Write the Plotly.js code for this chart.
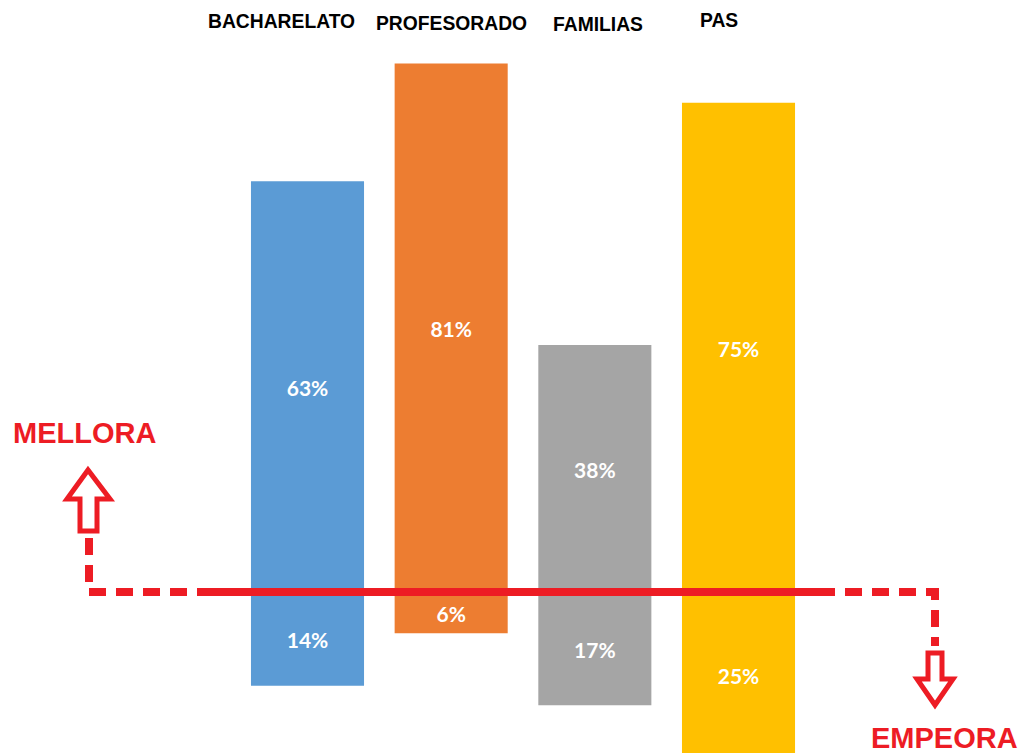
<!DOCTYPE html>
<html>
<head>
<meta charset="utf-8">
<script src="https://cdn.plot.ly/plotly-3.0.1.min.js"></script>
<style>html,body{margin:0;padding:0;background:#fff;}#chart{width:1023px;height:753px;}</style>
</head>
<body>
<div id="chart"></div>
<script>
// ---- data ----
var categories = ['BACHARELATO', 'PROFESORADO', 'FAMILIAS', 'PAS'];
var mellora = [63, 81, 38, 75];   // % que mellora (arriba)
var empeora = [14, 6, 17, 25];    // % que empeora (abaixo)
var upLabel = 'MELLORA';
var downLabel = 'EMPEORA';

// ---- style ----
var barColors = ['#5B9BD5', '#ED7D31', '#A5A5A5', '#FFC000'];
var red = '#ED1C24';
var W = 1023, H = 753;
function px(x) { return x / W; }
function py(y) { return 1 - y / H; }
function pathPx(pts, close) {
  var s = pts.map(function (p, i) { return (i ? 'L ' : 'M ') + px(p[0]).toFixed(5) + ',' + py(p[1]).toFixed(5); }).join(' ');
  return close ? s + ' Z' : s;
}

var valueFont = { family: 'Lato, "Open Sans", sans-serif', size: 21, color: '#ffffff', weight: 'bold' };

var traceUp = {
  type: 'bar', x: categories, y: mellora,
  text: mellora.map(function (v) { return v + '%'; }),
  textposition: 'inside', insidetextanchor: 'middle', textangle: 0,
  insidetextfont: valueFont, constraintext: 'none',
  marker: { color: barColors, line: { width: 0 } },
  hoverinfo: 'none', showlegend: false
};
var traceDown = {
  type: 'bar', x: categories, y: empeora.map(function (v) { return -v; }),
  text: empeora.map(function (v) { return v + '%'; }),
  textposition: 'inside', insidetextanchor: 'middle', textangle: 0,
  insidetextfont: valueFont, constraintext: 'none',
  marker: { color: barColors, line: { width: 0 } },
  hoverinfo: 'none', showlegend: false
};

// pixel geometry of category axis
var catStep = 143.67, firstCenter = 307.5, zeroPx = 594, pxPerPct = 6.55;

var labelShift = [-26, 0, 3, -20];
var labelY = [22, 24, 25, 21];
var annotations = categories.map(function (c, i) {
  return {
    x: c, xref: 'x', xshift: labelShift[i],
    y: py(labelY[i]), yref: 'paper', yanchor: 'middle', xanchor: 'center',
    text: c, showarrow: false,
    font: { family: '"Liberation Sans", Arial, sans-serif', size: 19.3, color: '#000000', weight: 'bold' }
  };
});
annotations.push({
  x: px(84), y: py(433), xref: 'paper', yref: 'paper', xanchor: 'center', yanchor: 'middle',
  text: upLabel, showarrow: false,
  font: { family: '"Liberation Sans", Arial, sans-serif', size: 29, color: red, weight: 'bold' }
});
annotations.push({
  x: px(944), y: py(738), xref: 'paper', yref: 'paper', xanchor: 'center', yanchor: 'middle',
  text: downLabel, showarrow: false,
  font: { family: '"Liberation Sans", Arial, sans-serif', size: 29, color: red, weight: 'bold' }
});

var shapes = [
  // solid zero line
  { type: 'line', xref: 'paper', yref: 'paper', x0: px(197), x1: px(818), y0: py(592), y1: py(592),
    line: { color: red, width: 8 }, layer: 'above' },
  // left dashed connector
  { type: 'path', xref: 'paper', yref: 'paper', path: pathPx([[89, 538], [89, 592], [197, 592]]),
    line: { color: red, width: 8, dash: '17px,10px' }, layer: 'above' },
  // right dashed connector
  { type: 'path', xref: 'paper', yref: 'paper', path: pathPx([[818, 592], [935, 592], [935, 646]]),
    line: { color: red, width: 8, dash: '17px,10px' }, layer: 'above' },
  // up arrow
  { type: 'path', xref: 'paper', yref: 'paper',
    path: pathPx([[88, 470], [67, 499], [80, 499], [80, 531], [97, 531], [97, 499], [110, 499]], true),
    line: { color: red, width: 5 }, fillcolor: '#ffffff', layer: 'above' },
  // down arrow
  { type: 'path', xref: 'paper', yref: 'paper',
    path: pathPx([[928, 653], [928, 679], [917, 679], [935, 705], [953, 679], [942, 679], [942, 653]], true),
    line: { color: red, width: 5 }, fillcolor: '#ffffff', layer: 'above' }
];

var layout = {
  width: W, height: H,
  margin: { l: 0, r: 0, t: 0, b: 0, pad: 0 },
  paper_bgcolor: '#ffffff', plot_bgcolor: '#ffffff',
  barmode: 'relative', bargap: 0.213,
  xaxis: {
    type: 'category', categoryorder: 'array', categoryarray: categories,
    range: [-firstCenter / catStep, (W - firstCenter) / catStep],
    showticklabels: false, showgrid: false, zeroline: false, showline: false, ticks: '', fixedrange: true
  },
  yaxis: {
    range: [-(H - zeroPx) / pxPerPct, zeroPx / pxPerPct],
    showticklabels: false, showgrid: false, zeroline: false, showline: false, ticks: '', fixedrange: true
  },
  annotations: annotations,
  shapes: shapes,
  showlegend: false
};

Plotly.newPlot('chart', [traceUp, traceDown], layout, { displayModeBar: false, staticPlot: true });
</script>
</body>
</html>
